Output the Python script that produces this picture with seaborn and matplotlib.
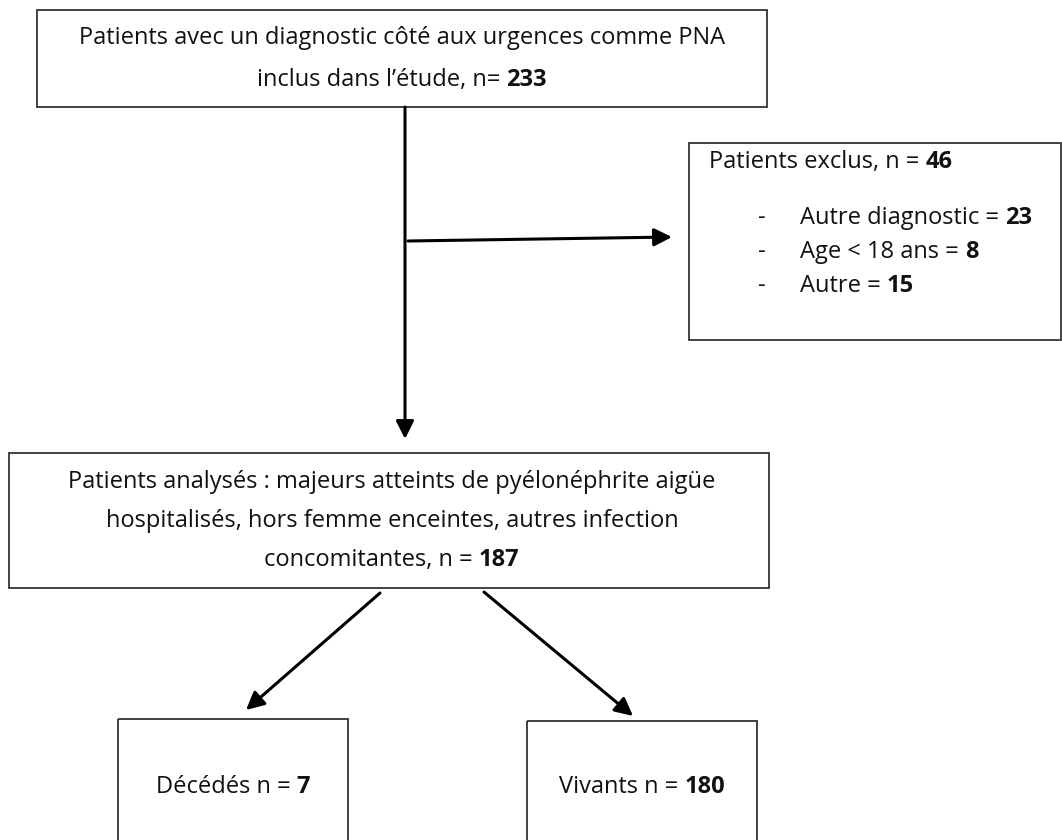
import matplotlib.pyplot as plt
import seaborn as sns
from matplotlib.patches import Rectangle

# ---------------------------------------------------------------------------
# Flowchart content (labels + counts)
# ---------------------------------------------------------------------------
n_inclus = 233
n_exclus = 46
motifs_exclusion = ["Autre diagnostic", "Age < 18 ans", "Autre"]
n_motifs = [23, 8, 15]
n_analyses = 187
issues = ["Décédés", "Vivants"]
n_issues = [7, 180]

txt_inclus = ["Patients avec un diagnostic côté aux urgences comme PNA",
              "inclus dans l\u2019étude, n= "]
txt_exclus = "Patients exclus, n = "
txt_analyses = ["Patients analysés : majeurs atteints de pyélonéphrite aigüe",
                "hospitalisés, hors femme enceintes, autres infection",
                "concomitantes, n = "]

# ---------------------------------------------------------------------------
# Layout (pixel coordinates, y downwards)
# ---------------------------------------------------------------------------
W, H = 1062, 840
BOX_INCLUS = (37, 10, 767, 107)
BOX_EXCLUS = (689, 143, 1061, 340)
BOX_ANALYSES = (9, 453, 769, 588)
BOX_ISSUES = [(118, 719, 348, 845), (527, 721, 757, 845)]
FS = 17.0
EDGE = "#333333"

sns.set_style("white")
plt.rcParams["font.family"] = ["Open Sans", "DejaVu Sans"]

fig = plt.figure(figsize=(W / 100, H / 100), dpi=100)
ax = fig.add_axes([0, 0, 1, 1])
ax.set_xlim(0, W)
ax.set_ylim(H, 0)
ax.axis("off")
renderer = fig.canvas.get_renderer()


def box(b):
    x0, y0, x1, y1 = b
    ax.add_patch(Rectangle((x0, y0), x1 - x0, y1 - y0, fill=False,
                           edgecolor=EDGE, lw=1.3))


def rich_line(x, y, parts, ha="center"):
    """Draw a line made of (text, weight) pieces, centred or left aligned."""
    items = []
    for s, w in parts:
        t = ax.text(0, y, s, fontsize=FS, fontweight=w, va="center",
                    ha="left", color="#111111")
        items.append((t, t.get_window_extent(renderer).width))
    total = sum(wd for _, wd in items)
    cur = x - total / 2 if ha == "center" else x
    for t, wd in items:
        t.set_x(cur)
        cur += wd


def arrow(p0, p1):
    ax.annotate("", xy=p1, xytext=p0,
                arrowprops=dict(arrowstyle="-|>", color="black", lw=2.2,
                                mutation_scale=27, shrinkA=0, shrinkB=0))


# boxes
for b in [BOX_INCLUS, BOX_EXCLUS, BOX_ANALYSES] + BOX_ISSUES:
    box(b)

# box 1 : inclusion
rich_line(402, 38, [(txt_inclus[0], "normal")])
rich_line(402, 80, [(txt_inclus[1], "normal"), (str(n_inclus), "bold")])

# box 2 : exclusions
rich_line(709, 162, [(txt_exclus, "normal"), (str(n_exclus), "bold")], ha="left")
for i, (m, n) in enumerate(zip(motifs_exclusion, n_motifs)):
    y = 218 + i * 34
    ax.text(762, y, "-", fontsize=FS, va="center", ha="center", color="#111111")
    rich_line(800, y, [(m + " = ", "normal"), (str(n), "bold")], ha="left")

# box 3 : analysed patients
rich_line(392, 482, [(txt_analyses[0], "normal")])
rich_line(392, 521, [(txt_analyses[1], "normal")])
rich_line(392, 560, [(txt_analyses[2], "normal"), (str(n_analyses), "bold")])

# outcome boxes
for b, lab, n in zip(BOX_ISSUES, issues, n_issues):
    rich_line((b[0] + b[2]) / 2, 787, [(lab + " n = ", "normal"), (str(n), "bold")])

# connectors
arrow((405, 107), (405, 439))
arrow((408, 241), (672, 237))
arrow((380, 593), (246, 710))
arrow((484, 592), (633, 716))

fig.savefig("out.png", dpi=100, facecolor="white")
